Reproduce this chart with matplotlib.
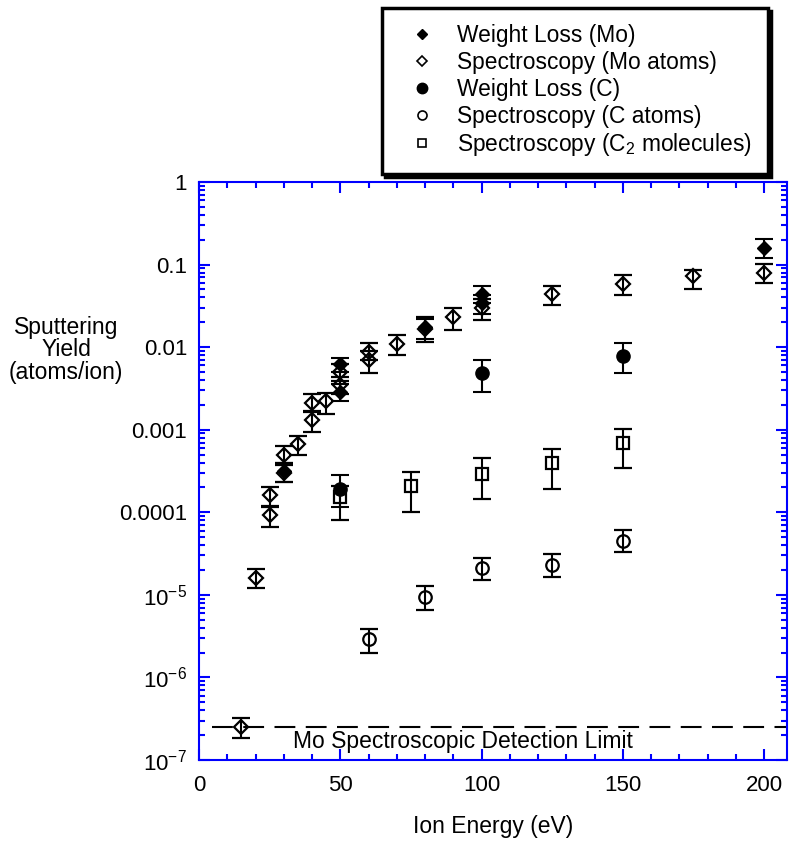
import numpy as np
import matplotlib
matplotlib.use('Agg')
import matplotlib.pyplot as plt
from matplotlib.lines import Line2D
from matplotlib.ticker import FixedLocator, FixedFormatter, MultipleLocator, LogLocator, NullFormatter

plt.rcParams['font.family'] = ['Liberation Sans', 'DejaVu Sans']
plt.rcParams['mathtext.fontset'] = 'custom'
plt.rcParams['mathtext.rm'] = 'Liberation Sans'
plt.rcParams['mathtext.it'] = 'Liberation Sans:italic'
plt.rcParams['mathtext.default'] = 'regular'

# Spectroscopy (Mo atoms) - open diamonds
mo_spec_x = [15, 20, 25, 25, 30, 30, 35, 40, 40, 45, 50, 50, 60, 60, 70, 80, 90, 100, 125, 150, 175, 200]
mo_spec_y = [2.5e-7, 1.62e-5, 1.6e-4, 9.3e-5, 5.0e-4, 3.0e-4, 6.7e-4, 2.1e-3, 1.3e-3, 2.2e-3, 5.0e-3, 3.5e-3,
             8.7e-3, 7.0e-3, 0.011, 0.0168, 0.023, 0.030, 0.044, 0.058, 0.073, 0.080]
mo_spec_lo = [1.87e-7, 1.2e-5, 1.2e-4, 6.6e-5, 4.0e-4, 2.3e-4, 4.9e-4, 1.7e-3, 9.5e-4, 1.55e-3, 3.9e-3, 2.7e-3,
              7.0e-3, 4.9e-3, 0.0081, 0.0117, 0.0162, 0.0214, 0.0324, 0.0427, 0.051, 0.059]
mo_spec_hi = [3.2e-7, 2.05e-5, 2.05e-4, 1.15e-4, 6.3e-4, 3.7e-4, 8.5e-4, 2.7e-3, 1.65e-3, 2.75e-3, 6.3e-3, 4.4e-3,
              0.0112, 8.9e-3, 0.0141, 0.0234, 0.0295, 0.038, 0.0556, 0.0741, 0.087, 0.102]

# Weight Loss (Mo) - filled diamonds
mo_wl_x = [30, 50, 50, 80, 100, 100, 200]
mo_wl_y = [3.2e-4, 6.3e-3, 2.9e-3, 0.0177, 0.0436, 0.0346, 0.157]
mo_wl_lo = [2.3e-4, 5.0e-3, 2.2e-3, 0.0125, 0.034, 0.025, 0.120]
mo_wl_hi = [4.0e-4, 7.4e-3, 3.6e-3, 0.022, 0.055, 0.043, 0.204]

# Weight Loss (C) - filled circles
c_wl_x = [50, 100, 150]
c_wl_y = [1.9e-4, 4.9e-3, 7.8e-3]
c_wl_lo = [1.17e-4, 2.9e-3, 4.8e-3]
c_wl_hi = [2.8e-4, 7.0e-3, 0.0112]

# Spectroscopy (C atoms) - open circles
c_spec_x = [60, 80, 100, 125, 150]
c_spec_y = [2.93e-6, 9.5e-6, 2.14e-5, 2.3e-5, 4.5e-5]
c_spec_lo = [2.0e-6, 6.6e-6, 1.5e-5, 1.66e-5, 3.3e-5]
c_spec_hi = [3.9e-6, 1.29e-5, 2.8e-5, 3.16e-5, 6.1e-5]

# Spectroscopy (C2 molecules) - open squares
c2_x = [50, 75, 100, 125, 150]
c2_y = [1.55e-4, 2.1e-4, 2.9e-4, 4.0e-4, 7.0e-4]
c2_lo = [8.1e-5, 1.0e-4, 1.45e-4, 1.9e-4, 3.4e-4]
c2_hi = [2.1e-4, 3.1e-4, 4.5e-4, 5.9e-4, 1.02e-3]

detection_limit = 2.5e-7

ytick_vals = [1, 0.1, 0.01, 0.001, 0.0001, 1e-5, 1e-6, 1e-7]
ytick_labels = ['1', '0.1', '0.01', '0.001', '0.0001', '10$^{-5}$', '10$^{-6}$', '10$^{-7}$']

legend_labels = ['Weight Loss (Mo)', 'Spectroscopy (Mo atoms)', 'Weight Loss (C)',
                 'Spectroscopy (C atoms)', 'Spectroscopy (C$_2$ molecules)']

fig = plt.figure(figsize=(7.9, 8.41), dpi=100)
ax = fig.add_axes([199/790, 81/841, 588/790, 578/841])


def errs(y, lo, hi):
    y = np.array(y)
    return [y - np.array(lo), np.array(hi) - y]


common = dict(linestyle='none', ecolor='black', elinewidth=1.5, capsize=6.5, capthick=1.5, zorder=3)

ax.errorbar(c_wl_x, c_wl_y, yerr=errs(c_wl_y, c_wl_lo, c_wl_hi), fmt='o', ms=9.5,
            mfc='black', mec='black', **common)
ax.errorbar(mo_wl_x, mo_wl_y, yerr=errs(mo_wl_y, mo_wl_lo, mo_wl_hi), fmt='D', ms=7.5,
            mfc='black', mec='black', **common)
ax.errorbar(mo_spec_x, mo_spec_y, yerr=errs(mo_spec_y, mo_spec_lo, mo_spec_hi), fmt='D', ms=7.5,
            mfc='none', mec='black', mew=1.6, **common)
ax.errorbar(c_spec_x, c_spec_y, yerr=errs(c_spec_y, c_spec_lo, c_spec_hi), fmt='o', ms=9,
            mfc='none', mec='black', mew=1.6, **common)
ax.errorbar(c2_x, c2_y, yerr=errs(c2_y, c2_lo, c2_hi), fmt='s', ms=8,
            mfc='none', mec='black', mew=1.6, **common)

ax.plot([4.5, 208], [detection_limit, detection_limit], color='black', lw=1.5,
        dashes=(10, 5), zorder=2)
ax.text(33.3, 1.66e-7, 'Mo Spectroscopic Detection Limit', fontsize=16.5, ha='left', va='center')

ax.set_yscale('log')
ax.set_xlim(0, 208.1)
ax.set_ylim(1e-7, 1)
ax.xaxis.set_major_locator(MultipleLocator(50))
ax.xaxis.set_minor_locator(MultipleLocator(10))
ax.yaxis.set_major_locator(FixedLocator(ytick_vals))
ax.yaxis.set_major_formatter(FixedFormatter(ytick_labels))
ax.yaxis.set_minor_locator(LogLocator(base=10, subs=np.arange(2, 10), numticks=20))
ax.yaxis.set_minor_formatter(NullFormatter())

for s in ax.spines.values():
    s.set_color('#0000ff')
    s.set_linewidth(1.5)
ax.tick_params(which='both', direction='in', color='#0000ff', top=True, right=True, width=1.5,
               labelcolor='black')
ax.tick_params(which='major', length=8)
ax.tick_params(which='minor', length=4.5)
ax.tick_params(axis='y', which='major', labelsize=16, pad=8.5)
ax.tick_params(axis='x', which='major', labelsize=16, pad=11)

fig.text(66/790, 1 - 350/841, 'Sputtering\nYield\n(atoms/ion)', fontsize=16.5,
         ha='center', va='center', linespacing=0.97)
fig.text(493/790, 1 - 826/841, 'Ion Energy (eV)', fontsize=16.5, ha='center', va='center')

handles = [
    Line2D([], [], marker='D', ms=5, mfc='black', mec='black', ls='none'),
    Line2D([], [], marker='D', ms=5, mfc='none', mec='black', mew=1.2, ls='none'),
    Line2D([], [], marker='o', ms=7.5, mfc='black', mec='black', ls='none'),
    Line2D([], [], marker='o', ms=6.5, mfc='none', mec='black', mew=1.2, ls='none'),
    Line2D([], [], marker='s', ms=6, mfc='none', mec='black', mew=1.2, ls='none'),
]
leg = fig.legend(handles, legend_labels, loc='upper left', bbox_to_anchor=(382/790, 1 - 8/841),
                 borderaxespad=0, fontsize=16.4, frameon=True, fancybox=False, framealpha=1,
                 edgecolor='black', borderpad=0.7, handlelength=2.1, handletextpad=0.5,
                 labelspacing=0.17, shadow={'color': 'black', 'alpha': 1})
leg.get_frame().set_linewidth(2.5)

fig.savefig('out.png', dpi=100)
